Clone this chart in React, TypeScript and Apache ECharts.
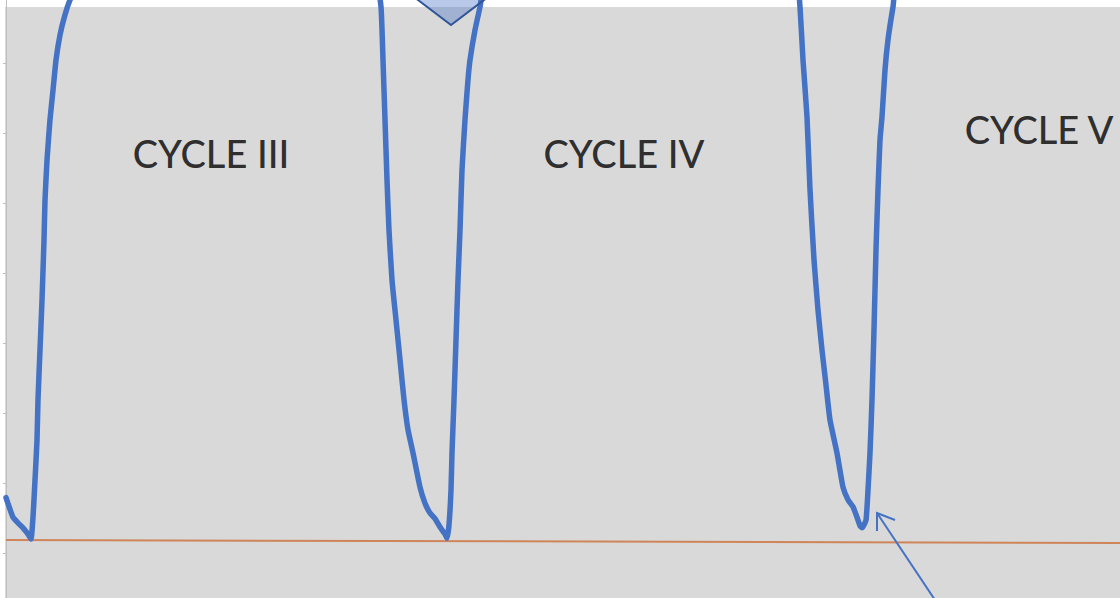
import React, { useEffect, useRef } from "react";
import * as echarts from "echarts";

// time (arbitrary units) and signal value for the blue trace
const timePoints = [
  0, 7, 12, 17, 22, 25, 27, 29, 31, 32, 34, 36, 38, 39, 41, 44, 47, 50, 54, 59, 64, 74,
  150, 250, 350,
  370, 375, 377, 379, 381, 383, 386, 390, 394, 398, 402, 407, 414, 419, 424, 429, 434, 439, 441,
  443, 445, 446, 448, 450, 452, 454, 456, 459, 462, 464, 469, 474, 480,
  550, 650, 780,
  791, 794, 797, 801, 804, 808, 812, 816, 820, 824, 831, 837, 842, 847, 851, 854, 856,
  860, 862, 864, 866, 868, 870, 872, 874, 876, 879, 882, 887, 892,
  1000, 1114,
];
const signalValues = [
  0.79, 0.51, 0.43, 0.36, 0.27, 0.2, 0.51, 1.04, 1.61, 2.19, 2.9, 3.61, 4.47, 5.04, 5.61, 6.19, 6.61, 7.04, 7.4, 7.69, 7.9, 8.19,
  8.5, 8.55, 8.3,
  8.19, 7.8, 7.04, 6.19, 5.33, 4.61, 3.9, 3.33, 2.76, 2.19, 1.76, 1.43, 0.94, 0.71, 0.57, 0.49, 0.37, 0.27, 0.21,
  0.4, 0.9, 1.43, 2.19, 3.04, 3.9, 4.61, 5.47, 6.19, 6.76, 7.04, 7.47, 7.8, 8.19,
  8.5, 8.55, 8.3,
  8.19, 7.8, 7.04, 6.23, 5.19, 4.19, 3.47, 2.9, 2.4, 1.9, 1.43, 0.94, 0.76, 0.66, 0.51, 0.39, 0.36,
  0.47, 0.9, 1.43, 2.19, 3.19, 4.33, 5.19, 5.9, 6.23, 6.9, 7.33, 7.8, 8.19,
  8.5, 8.55,
];

// reference (threshold) line
const refTimes = [0, 1114];
const refValues = [0.186, 0.143];

// cycle labels
const cycleLabels = ["CYCLE III", "CYCLE IV", "CYCLE V"];
const cycleLabelTimes = [205, 618, 1033];
const cycleLabelValues = [5.71, 5.71, 6.06];

const yMin = -1;
const yMax = 8;
const yInterval = 1;

export default function App() {
  const ref = useRef<HTMLDivElement>(null);
  useEffect(() => {
    if (!ref.current) return;
    const chart = echarts.init(ref.current, null, { renderer: "svg" });
    const signal = timePoints.map((t, i) => [t, signalValues[i]]);
    const refLine = refTimes.map((t, i) => [t, refValues[i]]);
    const labelData = cycleLabels.map((name, i) => ({
      value: [cycleLabelTimes[i], cycleLabelValues[i]],
      name,
    }));
    const oy = 7; // chart div starts 7px above the page top
    chart.setOption({
      animation: false,
      backgroundColor: "#ffffff",
      grid: { left: 6, right: 0, top: 0, bottom: 0, containLabel: false },
      xAxis: {
        type: "value",
        min: 0,
        max: 1114,
        show: false,
      },
      yAxis: {
        type: "value",
        min: yMin,
        max: yMax,
        interval: yInterval,
        axisLine: { show: true, lineStyle: { color: "#bfbfbf", width: 1 } },
        axisTick: { show: true, length: 3, lineStyle: { color: "#bfbfbf" } },
        axisLabel: { show: false },
        splitLine: { show: false },
      },
      graphic: [
        {
          type: "rect",
          z: -10,
          silent: true,
          shape: { x: 5, y: 7 + oy, width: 1115, height: 640 },
          style: { fill: "#d9d9d9" },
        },
        {
          type: "polygon",
          z: 100,
          shape: { points: [[418, 0 + oy], [451, 25 + oy], [484, 0 + oy], [451, -25 + oy]] },
          style: { fill: "rgba(68,114,196,0.38)", stroke: "#2f5597", lineWidth: 2 },
        },
        {
          type: "polyline",
          z: 100,
          shape: { points: [[937, 603 + oy], [877, 513 + oy]] },
          style: { stroke: "#4472c4", lineWidth: 2, fill: null },
        },
        {
          type: "polyline",
          z: 100,
          shape: { points: [[877, 531 + oy], [877, 513 + oy], [895, 520 + oy]] },
          style: { stroke: "#4472c4", lineWidth: 2, fill: null },
        },
      ],
      series: [
        {
          type: "line",
          data: refLine,
          showSymbol: false,
          lineStyle: { color: "#cf8559", width: 2 },
          z: 3,
        },
        {
          type: "line",
          data: signal,
          showSymbol: false,
          smooth: 0.15,
          lineStyle: { color: "#4472c4", width: 5.5, join: "round", cap: "round" },
          z: 4,
        },
        {
          type: "scatter",
          data: labelData,
          symbolSize: 0,
          label: {
            show: true,
            position: "inside",
            formatter: (p: any) => p.name,
            fontFamily: "Lato, 'Open Sans', sans-serif",
            fontWeight: 500,
            fontSize: 38,
            color: "#000000",
          },
          z: 5,
        },
      ],
    });
    return () => chart.dispose();
  }, []);
  return (
    <div
      style={{
        position: "absolute",
        left: 0,
        top: 0,
        width: 1120,
        height: 598,
        overflow: "hidden",
        background: "#ffffff",
      }}
    >
      <div
        ref={ref}
        style={{ position: "absolute", left: 0, top: -7, width: 1120, height: 630 }}
      />
    </div>
  );
}
